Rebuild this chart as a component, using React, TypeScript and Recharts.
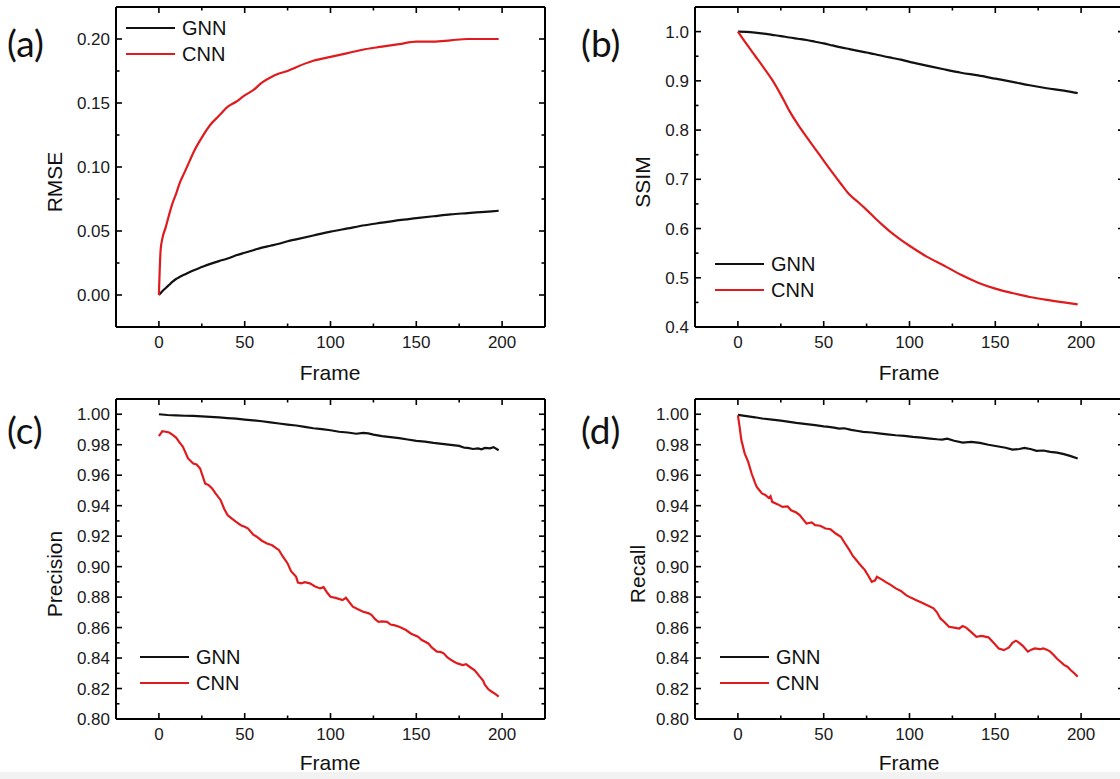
import React from 'react';
import { LineChart, Line, XAxis, YAxis, Legend } from 'recharts';

const FONT = '"Liberation Sans", Arial, sans-serif';
const BLACK = '#111111';
const RED = '#e01b1d';

// frame axis, shared by the four panels
const frameMajor = [0, 50, 100, 150, 200];
const frameMinor = [25, 75, 125, 175];
const seriesOrder = ['GNN', 'CNN'];

// (a) RMSE
const rmseFrames = [0, 1, 2, 4, 6, 8, 10, 12, 15, 18, 20, 25, 30, 35, 40, 45, 50, 55, 60, 65, 70, 75, 80, 90, 100, 110, 120, 130, 140, 150, 160, 170, 180, 190, 198];
const rmseGnn = [0, 0.0015, 0.003, 0.0055, 0.008, 0.0105, 0.0125, 0.014, 0.016, 0.018, 0.0192, 0.0218, 0.0243, 0.0265, 0.0285, 0.031, 0.033, 0.035, 0.037, 0.0385, 0.04, 0.042, 0.0435, 0.0465, 0.0495, 0.052, 0.0545, 0.0565, 0.0585, 0.06, 0.0615, 0.063, 0.064, 0.065, 0.0658];
const rmseCnn = [0, 0.035, 0.044, 0.053, 0.063, 0.072, 0.079, 0.087, 0.096, 0.105, 0.111, 0.123, 0.133, 0.14, 0.147, 0.151, 0.156, 0.16, 0.166, 0.17, 0.173, 0.175, 0.178, 0.183, 0.186, 0.189, 0.192, 0.194, 0.196, 0.198, 0.198, 0.199, 0.2, 0.2, 0.2];
const rmseMajor = [0, 0.05, 0.1, 0.15, 0.2];
const rmseMinor = [0.025, 0.075, 0.125, 0.175];

// (b) SSIM
const ssimFrames = [0, 5, 10, 15, 20, 25, 30, 35, 40, 45, 50, 55, 60, 65, 70, 75, 80, 85, 90, 95, 100, 110, 120, 130, 140, 150, 160, 170, 180, 190, 198];
const ssimGnn = [1.0, 0.9995, 0.998, 0.996, 0.9935, 0.991, 0.988, 0.9855, 0.983, 0.9795, 0.976, 0.972, 0.968, 0.9645, 0.961, 0.9575, 0.954, 0.95, 0.9465, 0.943, 0.9385, 0.931, 0.9235, 0.9165, 0.911, 0.9045, 0.898, 0.891, 0.885, 0.88, 0.875];
const ssimCnn = [1.0, 0.975, 0.951, 0.927, 0.902, 0.872, 0.839, 0.811, 0.786, 0.762, 0.738, 0.714, 0.691, 0.669, 0.654, 0.638, 0.621, 0.605, 0.59, 0.577, 0.565, 0.543, 0.525, 0.506, 0.49, 0.478, 0.469, 0.461, 0.455, 0.45, 0.446];
const ssimMajor = [0.4, 0.5, 0.6, 0.7, 0.8, 0.9, 1.0];
const ssimMinor = [0.45, 0.55, 0.65, 0.75, 0.85, 0.95];

// (c) Precision
const precGnnFrames = [0, 5, 10, 15, 20, 25, 30, 35, 40, 45, 50, 55, 60, 65, 70, 75, 80, 85, 90, 95, 100, 105, 110, 115, 119, 122, 125, 130, 135, 140, 145, 150, 155, 160, 165, 170, 175, 178, 180, 183, 186, 188, 190, 193, 195, 198];
const precGnn = [1.0, 0.9995, 0.9993, 0.999, 0.9989, 0.9986, 0.9983, 0.9979, 0.9975, 0.9971, 0.9965, 0.996, 0.9954, 0.9947, 0.9939, 0.9932, 0.9926, 0.9917, 0.9908, 0.9902, 0.9895, 0.9885, 0.988, 0.9872, 0.9878, 0.9874, 0.9866, 0.9856, 0.985, 0.9843, 0.9834, 0.9825, 0.982, 0.9812, 0.9806, 0.9799, 0.9792, 0.978, 0.9779, 0.9772, 0.9776, 0.977, 0.9779, 0.9776, 0.9784, 0.9764];
const precCnnFrames = [0, 2, 4, 6, 8, 10, 12, 14, 17, 20, 22, 24, 27, 29, 31, 33, 36, 38, 40, 42, 45, 48, 50, 52, 55, 57, 60, 63, 66, 70, 72, 75, 77, 80, 81, 83, 85, 88, 91, 94, 96, 98, 100, 103, 107, 109, 113, 116, 119, 122, 124, 126, 128, 130, 133, 135, 137, 140, 144, 147, 151, 153, 157, 159, 162, 164, 166, 168, 170, 172, 174, 177, 179, 181, 184, 187, 189, 190, 192, 194, 196, 198];
const precCnn = [0.9856, 0.9889, 0.9885, 0.988, 0.9865, 0.9847, 0.9815, 0.9786, 0.971, 0.9676, 0.967, 0.9644, 0.9545, 0.9535, 0.9513, 0.948, 0.9436, 0.938, 0.9338, 0.932, 0.9294, 0.927, 0.9262, 0.925, 0.921, 0.9196, 0.917, 0.9152, 0.914, 0.9108, 0.907, 0.9021, 0.897, 0.8933, 0.8895, 0.889, 0.8898, 0.889, 0.887, 0.8857, 0.8865, 0.883, 0.8802, 0.8795, 0.878, 0.8795, 0.8737, 0.872, 0.8704, 0.8695, 0.8682, 0.8655, 0.8638, 0.864, 0.8638, 0.862, 0.8616, 0.8605, 0.8584, 0.856, 0.854, 0.852, 0.8496, 0.847, 0.8442, 0.844, 0.8431, 0.8405, 0.839, 0.8376, 0.8365, 0.8354, 0.836, 0.8343, 0.832, 0.8278, 0.825, 0.8223, 0.8195, 0.8179, 0.8165, 0.8147];

// (d) Recall
const recGnnFrames = [0, 5, 10, 14, 20, 25, 30, 34, 40, 45, 50, 53, 56, 59, 62, 66, 70, 73, 78, 82, 87, 92, 97, 102, 107, 112, 116, 119, 122, 126, 131, 136, 141, 146, 151, 156, 160, 164, 167, 171, 174, 178, 182, 186, 190, 194, 198];
const recGnn = [0.9996, 0.9988, 0.998, 0.9972, 0.9965, 0.9958, 0.995, 0.9943, 0.9935, 0.9928, 0.992, 0.9917, 0.9912, 0.9906, 0.9908, 0.9897, 0.989, 0.9884, 0.988, 0.9875, 0.9868, 0.9862, 0.9858, 0.9851, 0.9846, 0.984, 0.9836, 0.9834, 0.984, 0.9826, 0.9814, 0.9818, 0.9812, 0.98, 0.979, 0.978, 0.9768, 0.9772, 0.9779, 0.977, 0.976, 0.9762, 0.9753, 0.9748, 0.9738, 0.9725, 0.9709];
const recCnnFrames = [0, 1, 2, 4, 6, 8, 10, 11, 13, 14, 16, 18, 19, 20, 23, 26, 29, 31, 34, 36, 38, 40, 43, 45, 48, 51, 54, 57, 60, 62, 65, 67, 69, 71, 74, 76, 78, 80, 81, 84, 86, 89, 92, 95, 98, 101, 104, 107, 110, 114, 116, 118, 120, 123, 126, 129, 131, 133, 136, 139, 142, 146, 149, 152, 155, 158, 160, 162, 164, 166, 169, 171, 173, 176, 178, 180, 182, 184, 186, 188, 190, 192, 194, 196, 198];
const recCnn = [0.9993, 0.9917, 0.983, 0.9742, 0.9687, 0.9611, 0.955, 0.9523, 0.9495, 0.948, 0.947, 0.945, 0.9462, 0.9425, 0.941, 0.9392, 0.9395, 0.937, 0.9355, 0.9338, 0.931, 0.9283, 0.929, 0.9272, 0.9268, 0.925, 0.9245, 0.9217, 0.9196, 0.916, 0.9108, 0.907, 0.9043, 0.9015, 0.8977, 0.894, 0.89, 0.891, 0.8933, 0.8915, 0.89, 0.888, 0.8857, 0.884, 0.8813, 0.8795, 0.878, 0.8765, 0.8748, 0.8726, 0.87, 0.866, 0.864, 0.8605, 0.86, 0.8594, 0.861, 0.86, 0.857, 0.854, 0.8545, 0.8536, 0.85, 0.8463, 0.8452, 0.847, 0.85, 0.8514, 0.85, 0.848, 0.8442, 0.8455, 0.8463, 0.8458, 0.8463, 0.8455, 0.8442, 0.842, 0.8395, 0.8376, 0.8355, 0.8343, 0.832, 0.83, 0.8278];

const pctMajor = [0.8, 0.82, 0.84, 0.86, 0.88, 0.9, 0.92, 0.94, 0.96, 0.98, 1.0];
const pctMinor = [0.81, 0.83, 0.85, 0.87, 0.89, 0.91, 0.93, 0.95, 0.97, 0.99];

const zip = (fs: number[], vs: number[]) => fs.map((f, i) => ({ f, v: vs[i] }));
const merge = (a: number[], b: number[]) => [...a, ...b].sort((p, q) => p - q);
const inList = (v: number, list: number[]) => list.some((m) => Math.abs(m - v) < 1e-9);

const tickText = { fontSize: 17, fontFamily: FONT, fill: '#1a1a1a' };

const leftTick = (major: number[], digits: number) => (props: any) => {
  const { x, y, payload } = props;
  const big = inList(payload.value, major);
  return (
    <g>
      <line x1={x} x2={x + (big ? 6 : 3.5)} y1={y} y2={y} stroke="#000" strokeWidth={1.6} />
      {big && (
        <text x={x - 6} y={y} dy="0.36em" textAnchor="end" {...tickText}>
          {payload.value.toFixed(digits)}
        </text>
      )}
    </g>
  );
};

const rightTick = (major: number[]) => (props: any) => {
  const { x, y, payload } = props;
  const big = inList(payload.value, major);
  return <line x1={x} x2={x - (big ? 6 : 3.5)} y1={y} y2={y} stroke="#000" strokeWidth={1.6} />;
};

const bottomTick = (props: any) => {
  const { x, y, payload } = props;
  const big = inList(payload.value, frameMajor);
  return (
    <g>
      <line x1={x} x2={x} y1={y} y2={y - (big ? 6 : 3.5)} stroke="#000" strokeWidth={1.6} />
      {big && (
        <text x={x} y={y + 21} textAnchor="middle" {...tickText}>
          {payload.value}
        </text>
      )}
    </g>
  );
};

const topTick = (props: any) => {
  const { x, y, payload } = props;
  const big = inList(payload.value, frameMajor);
  return <line x1={x} x2={x} y1={y} y2={y + (big ? 6 : 3.5)} stroke="#000" strokeWidth={1.6} />;
};

const legendBox = (props: any) => {
  const items = [...(props.payload || [])].sort(
    (a: any, b: any) => seriesOrder.indexOf(a.value) - seriesOrder.indexOf(b.value)
  );
  return (
    <div style={{ fontFamily: FONT, fontSize: 20, color: '#111' }}>
      {items.map((item: any) => (
        <div key={item.value} style={{ display: 'flex', alignItems: 'center', height: 26 }}>
          <svg width={49} height={4} style={{ marginRight: 7 }}>
            <line x1={0} x2={49} y1={2} y2={2} stroke={item.color} strokeWidth={2.2} />
          </svg>
          <span>{item.value}</span>
        </div>
      ))}
    </div>
  );
};

type PanelProps = {
  left: number;
  top: number;
  width: number;
  height: number;
  box: { l: number; t: number; r: number; b: number };
  yDomain: [number, number];
  yMajor: number[];
  yMinor: number[];
  digits: number;
  gnn: { f: number; v: number }[];
  cnn: { f: number; v: number }[];
  curve: 'monotone' | 'linear';
  legendAt: { left: number; top: number };
};

const Panel = (p: PanelProps) => {
  const yTicks = merge(p.yMajor, p.yMinor);
  const xTicks = merge(frameMajor, frameMinor);
  const axisLine = { stroke: '#000', strokeWidth: 2 };
  return (
    <div style={{ position: 'absolute', left: p.left, top: p.top }}>
      <LineChart
        width={p.width}
        height={p.height}
        margin={{ top: p.box.t - 1, right: p.box.r - 1, bottom: p.box.b - 30, left: p.box.l - 60 }}
      >
        <XAxis
          xAxisId="b"
          type="number"
          dataKey="f"
          domain={[-25, 225]}
          allowDataOverflow
          ticks={xTicks}
          interval={0}
          height={30}
          tickSize={0}
          tickMargin={0}
          axisLine={axisLine}
          tickLine={false}
          tick={bottomTick}
        />
        <XAxis
          xAxisId="t"
          orientation="top"
          type="number"
          dataKey="f"
          domain={[-25, 225]}
          allowDataOverflow
          ticks={xTicks}
          interval={0}
          height={1}
          tickSize={0}
          tickMargin={0}
          axisLine={axisLine}
          tickLine={false}
          tick={topTick}
        />
        <YAxis
          yAxisId="l"
          type="number"
          domain={p.yDomain}
          allowDataOverflow
          ticks={yTicks}
          interval={0}
          width={60}
          tickSize={0}
          tickMargin={0}
          axisLine={axisLine}
          tickLine={false}
          tick={leftTick(p.yMajor, p.digits)}
        />
        <YAxis
          yAxisId="r"
          orientation="right"
          type="number"
          domain={p.yDomain}
          allowDataOverflow
          ticks={yTicks}
          interval={0}
          width={1}
          tickSize={0}
          tickMargin={0}
          axisLine={axisLine}
          tickLine={false}
          tick={rightTick(p.yMajor)}
        />
        <Legend
          layout="vertical"
          align="center"
          verticalAlign="middle"
          content={legendBox}
          wrapperStyle={{ left: p.legendAt.left, top: p.legendAt.top, width: 'auto', height: 'auto' }}
        />
        <Line xAxisId="b" yAxisId="l" data={p.gnn} dataKey="v" name="GNN" type={p.curve} stroke={BLACK} strokeWidth={2.2} dot={false} isAnimationActive={false} />
        <Line xAxisId="b" yAxisId="l" data={p.cnn} dataKey="v" name="CNN" type={p.curve} stroke={RED} strokeWidth={2.2} dot={false} isAnimationActive={false} />
      </LineChart>
    </div>
  );
};

const titleStyle = { fontSize: 21, fontFamily: FONT, fill: '#111' };
const letterStyle = { fontSize: 37, fontFamily: 'Lato, "Open Sans", sans-serif', fill: '#111' };

export default function App() {
  return (
    <div style={{ position: 'absolute', left: 0, top: 0, width: 1120, height: 779, overflow: 'hidden', background: '#fff' }}>
      <Panel
        left={0} top={0} width={560} height={390}
        box={{ l: 116, t: 7, r: 15, b: 63 }}
        yDomain={[-0.025, 0.225]} yMajor={rmseMajor} yMinor={rmseMinor} digits={2}
        gnn={zip(rmseFrames, rmseGnn)} cnn={zip(rmseFrames, rmseCnn)} curve="monotone"
        legendAt={{ left: 126, top: 15 }}
      />
      <Panel
        left={560} top={0} width={580} height={390}
        box={{ l: 135, t: 7, r: 16, b: 63 }}
        yDomain={[0.4, 1.05]} yMajor={ssimMajor} yMinor={ssimMinor} digits={1}
        gnn={zip(ssimFrames, ssimGnn)} cnn={zip(ssimFrames, ssimCnn)} curve="monotone"
        legendAt={{ left: 155, top: 251 }}
      />
      <Panel
        left={0} top={390} width={560} height={389}
        box={{ l: 116, t: 9, r: 15, b: 60 }}
        yDomain={[0.8, 1.01]} yMajor={pctMajor} yMinor={pctMinor} digits={2}
        gnn={zip(precGnnFrames, precGnn)} cnn={zip(precCnnFrames, precCnn)} curve="linear"
        legendAt={{ left: 140, top: 254 }}
      />
      <Panel
        left={560} top={390} width={580} height={389}
        box={{ l: 135, t: 9, r: 16, b: 60 }}
        yDomain={[0.8, 1.01]} yMajor={pctMajor} yMinor={pctMinor} digits={2}
        gnn={zip(recGnnFrames, recGnn)} cnn={zip(recCnnFrames, recCnn)} curve="linear"
        legendAt={{ left: 160, top: 254 }}
      />
      <div style={{ position: 'absolute', left: 0, top: 772, width: 1120, height: 7, background: '#f2f2f2' }} />
      <svg width={1120} height={779} style={{ position: 'absolute', left: 0, top: 0, pointerEvents: 'none' }}>
        <text x={7} y={57} {...letterStyle}>(a)</text>
        <text x={581} y={57} {...letterStyle}>(b)</text>
        <text x={7} y={444} {...letterStyle}>(c)</text>
        <text x={581} y={444} {...letterStyle}>(d)</text>
        <text transform="translate(62,182) rotate(-90)" textAnchor="middle" {...titleStyle}>RMSE</text>
        <text transform="translate(650,182) rotate(-90)" textAnchor="middle" {...titleStyle}>SSIM</text>
        <text transform="translate(62,574) rotate(-90)" textAnchor="middle" {...titleStyle}>Precision</text>
        <text transform="translate(645,574) rotate(-90)" textAnchor="middle" {...titleStyle}>Recall</text>
        <text x={330} y={380} textAnchor="middle" {...titleStyle}>Frame</text>
        <text x={909} y={380} textAnchor="middle" {...titleStyle}>Frame</text>
        <text x={330} y={770} textAnchor="middle" {...titleStyle}>Frame</text>
        <text x={909} y={770} textAnchor="middle" {...titleStyle}>Frame</text>
      </svg>
    </div>
  );
}
